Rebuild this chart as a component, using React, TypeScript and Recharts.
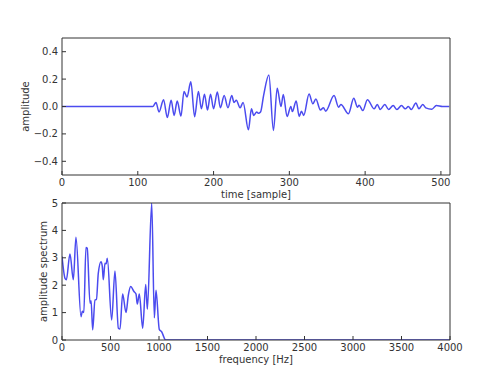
import { LineChart, Line, XAxis, YAxis, Label } from "recharts";

// time-domain signal (sample index, amplitude)
const timeSample = [
  0, 118, 120, 124, 128, 134, 139, 144, 148, 152, 157, 161, 165, 170, 175, 180, 184, 188, 192, 196,
  200, 205, 209, 214, 219, 224, 227, 230, 235, 239, 246, 250, 253, 257, 259, 262, 266, 273, 279, 284,
  289, 292, 297, 302, 304, 309, 313, 316, 319, 326, 331, 335, 341, 345, 348, 359, 365, 368, 378, 385,
  390, 392, 397, 403, 412, 416, 420, 426, 431, 437, 442, 448, 453, 457, 461, 467, 471, 476, 480, 488,
  494, 502, 511,
];
const timeAmp = [
  0, 0, 0, 0.03, -0.04, 0.05, -0.08, 0.045, -0.065, 0.04, -0.07, 0.11, 0.07, 0.18, -0.075, 0.11, -0.017, 0.09, -0.025, 0.09,
  -0.017, 0.105, -0.01, 0.08, -0.01, 0.08, 0.03, 0.045, -0.01, 0.03, -0.17, -0.017, -0.065, -0.04, -0.05, -0.04, 0.08, 0.23, -0.175, 0.134,
  0.0, 0.088, -0.073, 0.0, -0.037, 0.04, -0.073, -0.034, -0.065, 0.092, 0.02, 0.055, -0.025, -0.01, -0.034, 0.08, -0.005, 0.015, -0.053, 0.06,
  -0.005, 0.01, -0.03, 0.05, -0.017, 0.015, -0.022, 0.015, -0.022, 0.007, -0.022, 0.007, -0.017, 0.0, -0.022, 0.025, -0.017, 0.015, -0.01, -0.02,
  0.007, 0, 0,
];

// amplitude spectrum (Hz, magnitude)
const freqHz = [
  0, 31, 45, 82, 117, 144, 196, 210, 225, 247, 260, 289, 300, 316, 340, 355, 374, 402, 415, 426,
  443, 455, 467, 512, 546, 581, 598, 625, 660, 684, 708, 742, 763, 776, 797, 832, 863, 880, 925, 952,
  969, 1003, 1027, 1069, 4000,
];
const freqAmp = [
  3.05, 2.25, 2.2, 3.14, 2.2, 3.75, 0.85, 1.05, 1.0, 3.38, 3.35, 1.34, 1.43, 0.37, 1.46, 1.48, 2.43, 2.86, 2.7, 2.2,
  2.8, 2.78, 2.98, 0.73, 2.52, 0.43, 0.4, 1.68, 1.0, 1.64, 1.95, 1.77, 1.68, 1.31, 1.68, 0.43, 2.03, 1.12, 5.0, 0.81,
  1.82, 0.39, 0.3, 0, 0,
];

const timeTicks = [0, 100, 200, 300, 400, 500];
const ampTicks = [-0.4, -0.2, 0, 0.2, 0.4];
const freqTicks = [0, 500, 1000, 1500, 2000, 2500, 3000, 3500, 4000];
const specTicks = [0, 1, 2, 3, 4, 5];

const timeData = timeSample.map((t, i) => ({ t, a: timeAmp[i] }));
const specData = freqHz.map((f, i) => ({ f, s: freqAmp[i] }));

const FRAME = "#333";
const BLUE = "#4b4bef";
const tickFont = { fontFamily: "DejaVu Sans", fontSize: 10, fill: "#333" };

const fmtAmp = (v: number) => (v < 0 ? "\u2212" : "") + Math.abs(v).toFixed(1);

function YTitle({ viewBox, value, dx }: any) {
  const x = viewBox.x + dx;
  const y = viewBox.y + viewBox.height / 2;
  return (
    <text
      x={x}
      y={y}
      transform={`rotate(-90 ${x} ${y})`}
      textAnchor="middle"
      dominantBaseline="central"
      fontFamily="DejaVu Sans"
      fontSize={10}
      fill="#333"
    >
      {value}
    </text>
  );
}

// top and right frame axes with inward ticks (no labels)
function frameAxes(domX: number[], ticksX: number[], domY: number[], ticksY: number[]) {
  return [
    <XAxis
      key="xt"
      xAxisId="top"
      orientation="top"
      type="number"
      domain={domX}
      ticks={ticksX}
      interval={0}
      allowDataOverflow
      height={1}
      tickSize={-4}
      tick={false}
      stroke={FRAME}
    />,
    <YAxis
      key="yr"
      yAxisId="right"
      orientation="right"
      type="number"
      domain={domY}
      ticks={ticksY}
      interval={0}
      allowDataOverflow
      width={1}
      tickSize={-4}
      tick={false}
      stroke={FRAME}
    />,
  ];
}

export default function App() {
  return (
    <div style={{ position: "absolute", left: 0, top: 0, width: 500, height: 378, background: "#fff" }}>
      <div style={{ position: "absolute", left: 0, top: 0 }}>
        <LineChart width={500} height={200} data={timeData} margin={{ top: 37, right: 49, bottom: 0, left: 0 }}>
          <XAxis
            dataKey="t"
            type="number"
            domain={[0, 512]}
            ticks={timeTicks}
            interval={0}
            allowDataOverflow
            height={25}
            tickSize={-4}
            tickMargin={8}
            stroke={FRAME}
            tick={tickFont}
          >
            <Label value="time [sample]" position="insideBottom" offset={2} fontFamily="DejaVu Sans" fontSize={10} fill="#333" />
          </XAxis>
          <YAxis
            type="number"
            domain={[-0.5, 0.5]}
            ticks={ampTicks}
            interval={0}
            allowDataOverflow
            width={62}
            tickSize={-4}
            tickMargin={8}
            tickFormatter={fmtAmp}
            stroke={FRAME}
            tick={tickFont}
          >
            <Label value="amplitude" content={<YTitle dx={25} />} />
          </YAxis>
          {frameAxes([0, 512], timeTicks, [-0.5, 0.5], ampTicks)}
          <Line
            xAxisId="top"
            yAxisId="right"
            type="monotone"
            dataKey="a"
            stroke="none"
            dot={false}
            activeDot={false}
            isAnimationActive={false}
          />
          <Line type="monotone" dataKey="a" stroke={BLUE} strokeWidth={1.5} dot={false} isAnimationActive={false} />
        </LineChart>
      </div>
      <div style={{ position: "absolute", left: 0, top: 185 }}>
        <LineChart width={500} height={193} data={specData} margin={{ top: 17, right: 49, bottom: 10, left: 0 }}>
          <XAxis
            dataKey="f"
            type="number"
            domain={[0, 4000]}
            ticks={freqTicks}
            interval={0}
            allowDataOverflow
            height={28}
            tickSize={-4}
            tickMargin={8}
            stroke={FRAME}
            tick={tickFont}
          >
            <Label value="frequency [Hz]" position="insideBottom" offset={5} fontFamily="DejaVu Sans" fontSize={10} fill="#333" />
          </XAxis>
          <YAxis
            type="number"
            domain={[0, 5]}
            ticks={specTicks}
            interval={0}
            allowDataOverflow
            width={62}
            tickSize={-4}
            tickMargin={8}
            stroke={FRAME}
            tick={tickFont}
          >
            <Label value="amplitude spectrum" content={<YTitle dx={43} />} />
          </YAxis>
          {frameAxes([0, 4000], freqTicks, [0, 5], specTicks)}
          <Line
            xAxisId="top"
            yAxisId="right"
            type="monotone"
            dataKey="s"
            stroke="none"
            dot={false}
            activeDot={false}
            isAnimationActive={false}
          />
          <Line type="monotone" dataKey="s" stroke={BLUE} strokeWidth={1.5} dot={false} isAnimationActive={false} />
        </LineChart>
      </div>
    </div>
  );
}
